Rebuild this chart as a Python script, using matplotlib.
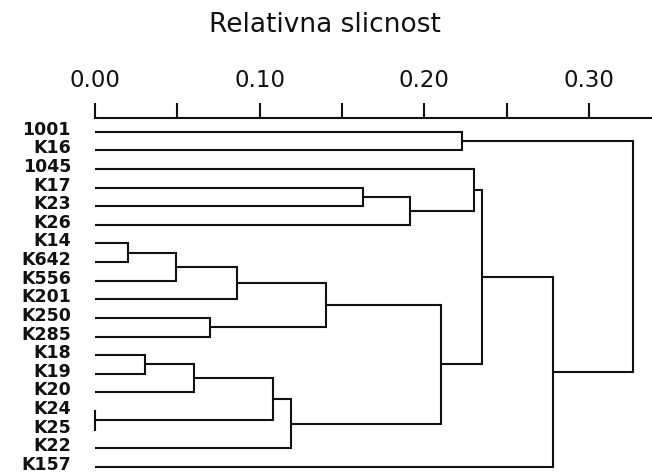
import matplotlib
matplotlib.use("Agg")
import matplotlib.pyplot as plt

# ---- data ----
leaf_labels = ["1001", "K16", "1045", "K17", "K23", "K26", "K14", "K642", "K556",
               "K201", "K250", "K285", "K18", "K19", "K20", "K24", "K25", "K22", "K157"]
# merges (leaves are 0..18, merged nodes numbered from 19 in order)
merge_a = [15, 6, 12, 20, 21, 10, 22, 23, 26, 25, 3, 29, 28, 0, 2, 33, 34, 32]
merge_b = [16, 7, 13, 8, 14, 11, 9, 19, 17, 24, 4, 5, 27, 1, 30, 31, 18, 35]
merge_h = [0.0, 0.020, 0.0305, 0.049, 0.060, 0.070, 0.086, 0.108, 0.119, 0.140,
           0.163, 0.191, 0.210, 0.2226, 0.230, 0.235, 0.278, 0.327]
tick_values = [0.00, 0.05, 0.10, 0.15, 0.20, 0.25, 0.30]
tick_labels = ["0.00", "", "0.10", "", "0.20", "", "0.30"]
title = "Relativna slicnost"

plt.rcParams["font.family"] = ["DejaVu Sans"]

W, H = 652, 473
fig = plt.figure(figsize=(W / 100, H / 100), dpi=100)
ax = fig.add_axes([95 / W, 0, (W - 95) / W, (H - 118) / H])

n = len(leaf_labels)
node_x = {i: 0.0 for i in range(n)}
node_y = {i: float(i) for i in range(n)}
lw = 1.5
col = "#111111"
for k, (a, b, h) in enumerate(zip(merge_a, merge_b, merge_h)):
    nid = n + k
    for c in (a, b):
        ax.plot([node_x[c], h], [node_y[c], node_y[c]], color=col, lw=lw,
                solid_capstyle="butt", clip_on=False)
    ax.plot([h, h], [node_y[a], node_y[b]], color=col, lw=lw,
            solid_capstyle="projecting", clip_on=False)
    node_x[nid] = h
    node_y[nid] = (node_y[a] + node_y[b]) / 2

ax.set_xlim(0, (W - 95) / 1646.7)
ax.set_ylim(18.33, -0.736)

for s in ("left", "right", "bottom"):
    ax.spines[s].set_visible(False)
ax.spines["top"].set_linewidth(1.5)
ax.spines["top"].set_color(col)
ax.xaxis.tick_top()
ax.set_xticks(tick_values)
ax.set_xticklabels(tick_labels, fontsize=16.5, color=col)
ax.tick_params(axis="x", direction="out", length=11, width=1.5, pad=8, color=col)

ax.set_yticks([])
for i, lab in enumerate(leaf_labels):
    ax.annotate(lab, xy=(0, i), xycoords=("axes fraction", "data"),
                xytext=(-24, 2), textcoords="offset pixels",
                ha="right", va="center", fontsize=12.5, fontweight="bold",
                color=col, annotation_clip=False)

fig.text(325 / W, 1 - 25 / H, title, ha="center", va="center", fontsize=19, color=col)

fig.savefig("out.png", dpi=100)
